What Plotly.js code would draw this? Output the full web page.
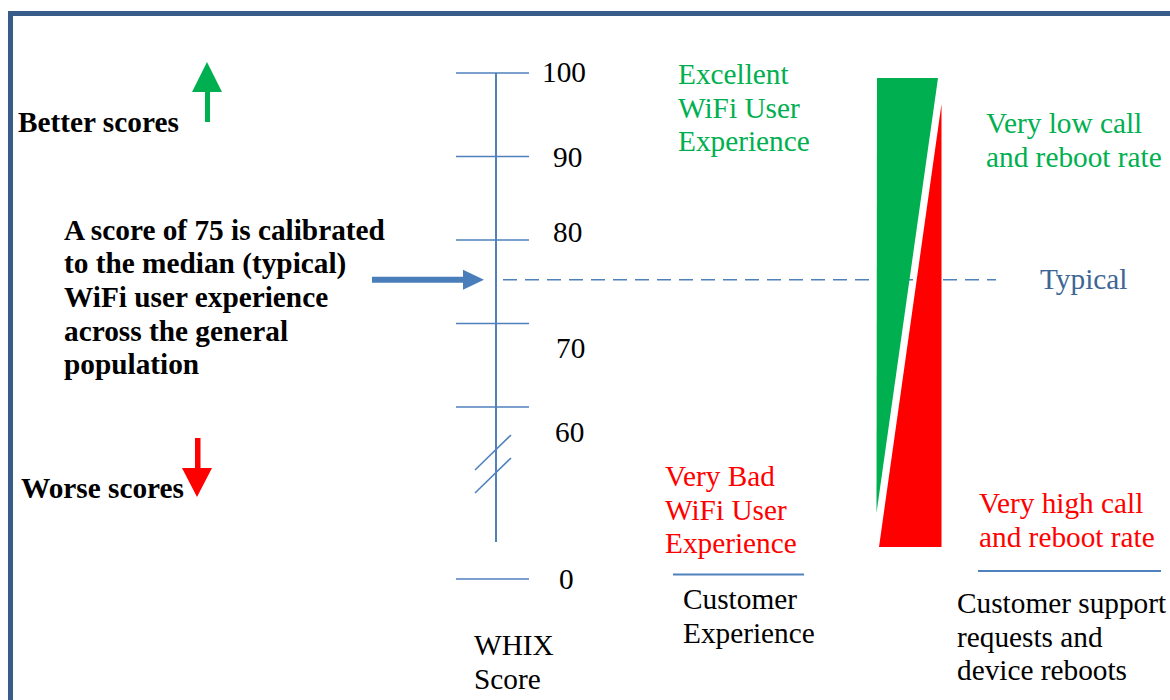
<!DOCTYPE html>
<html>
<head>
<meta charset="utf-8">
<script src="https://cdn.plot.ly/plotly-3.0.1.min.js"></script>
<style>html,body{margin:0;padding:0;background:#fff;}#chart{width:1170px;height:700px;}</style>
</head>
<body>
<div id="chart"></div>
<script>
// ---- data ----
const scoreTicks = [100, 90, 80, 70, 60, 0];
const tickLabels = ['100', '90', '80', '70', '60', '0'];
const typicalScore = 75;
const breakScore = 60;
const leftUpText = ['Better scores'];
const leftDownText = ['Worse scores'];
const calibText = ['A score of 75 is calibrated', 'to the median (typical)', 'WiFi user experience', 'across the general', 'population'];
const goodUX = ['Excellent', 'WiFi User', 'Experience'];
const badUX = ['Very Bad', 'WiFi User', 'Experience'];
const lowCalls = ['Very low call', 'and reboot rate'];
const highCalls = ['Very high call', 'and reboot rate'];
const typicalLabel = 'Typical';
const col1Title = ['WHIX', 'Score'];
const col2Title = ['Customer', 'Experience'];
const col3Title = ['Customer support', 'requests and', 'device reboots'];

// ---- layout helpers (pixel frame) ----
const BLUE = '#4f81bd', BORDER = '#385d8a', GREEN = '#00b050', RED = '#ff0000';
const FONT = 'Liberation Serif, Times New Roman, serif';
const FS = 29.3, LH = 33.6, PADX = 3;
function scoreY(s) {
  const top = 73, k = 8.35;
  if (s >= breakScore) return top + (100 - s) * k;
  return top + (100 - breakScore) * k + 172 * (breakScore - s) / breakScore;
}
const labelDy = [-1, 0, -8, 24, 25, 0];
const labelX = [564, 567, 567, 570, 569, 566];

const shapes = [];
const annotations = [];
function line(x0, y0, x1, y1, color, width, dash) {
  shapes.push({type: 'line', xref: 'x', yref: 'y', x0, y0, x1, y1, line: {color, width, dash: dash || 'solid'}});
}
function poly(pts, color) {
  const d = 'M' + pts.map(p => p[0] + ',' + p[1]).join(' L') + ' Z';
  shapes.push({type: 'path', xref: 'x', yref: 'y', path: d, fillcolor: color, line: {width: 0}});
}
function textBlock(lines, x, y0, color, bold, anchor) {
  lines.forEach((t, i) => {
    annotations.push({x: x - PADX, y: y0 + i * LH, xref: 'x', yref: 'y', text: bold ? '<b>' + t + '</b>' : t,
      showarrow: false, xanchor: anchor || 'left', yanchor: 'middle',
      font: {family: FONT, size: FS, color}});
  });
}

// border
shapes.push({type: 'path', xref: 'x', yref: 'y', path: 'M10.5,705 L10.5,13.5 L1180,13.5', line: {color: BORDER, width: 5}});

// score axis
const axX = 496;
line(axX, scoreY(100), axX, 542, BLUE, 2);
scoreTicks.forEach((s, i) => {
  const y = scoreY(s);
  line(456, y, 529, y, BLUE, 1.6);
  annotations.push({x: labelX[i], y: y + labelDy[i], xref: 'x', yref: 'y', text: tickLabels[i], showarrow: false,
    xanchor: 'center', yanchor: 'middle', font: {family: FONT, size: FS, color: '#000'}});
});
// break marks
line(475, 470, 511, 435, BLUE, 1.6);
line(475, 493, 511, 458, BLUE, 1.6);

// typical dashed line
const ty = scoreY(typicalScore) - 2;
line(503, ty, 996, ty, BLUE, 1.6, '14px,8px');
annotations.push({x: 1041 - PADX, y: ty - 1, xref: 'x', yref: 'y', text: typicalLabel, showarrow: false, xanchor: 'left', yanchor: 'middle',
  font: {family: FONT, size: FS, color: '#3d6596'}});

// calibration arrow
poly([[372, ty - 3], [463, ty - 3], [463, ty - 10], [484, ty], [463, ty + 10], [463, ty + 3], [372, ty + 3]], '#4a7ebb');

// green up arrow
poly([[205, 122], [205, 92], [192, 92], [207, 62], [222, 92], [210, 92], [210, 122]], GREEN);
// red down arrow
poly([[195, 438], [200.5, 438], [200.5, 468], [212, 468], [197, 497], [182, 468], [195, 468]], RED);

// wedges
poly([[877, 78], [938, 78], [876.5, 513]], GREEN);
poly([[941.5, 104], [941.5, 547], [879, 547]], RED);

// underlines
line(673, 574.5, 804, 574.5, BLUE, 2);
line(978, 571, 1161, 571, BLUE, 2);

// texts
textBlock(leftUpText, 19, 122, '#000', true);
textBlock(leftDownText, 22, 488, '#000', true);
textBlock(calibText, 65, 230, '#000', true);
textBlock(goodUX, 679, 74, GREEN, false);
textBlock(badUX, 666, 476, RED, false);
textBlock(lowCalls, 987, 123, GREEN, false);
textBlock(highCalls, 980, 503, RED, false);
textBlock(col1Title, 475, 645, '#000', false);
textBlock(col2Title, 684, 599, '#000', false);
textBlock(col3Title, 958, 603, '#000', false);

const layout = {
  width: 1170, height: 700,
  margin: {l: 0, r: 0, t: 0, b: 0},
  paper_bgcolor: '#fff', plot_bgcolor: '#fff',
  showlegend: false,
  xaxis: {range: [0, 1170], visible: false, fixedrange: true},
  yaxis: {range: [700, 0], visible: false, fixedrange: true},
  shapes, annotations
};
Plotly.newPlot('chart', [{x: [], y: [], type: 'scatter', mode: 'markers', hoverinfo: 'skip'}], layout, {displayModeBar: false, staticPlot: true});
</script>
</body>
</html>
